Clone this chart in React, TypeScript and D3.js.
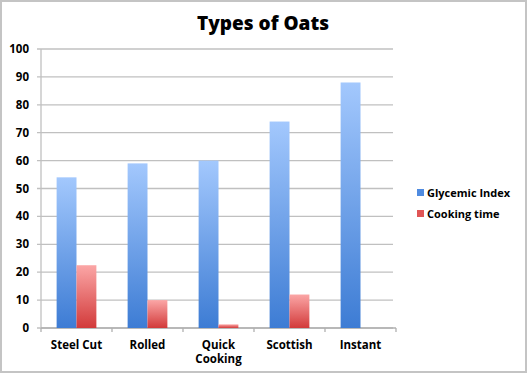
import React from "react";
import * as d3 from "d3";

const categories = ["Steel Cut", "Rolled", "Quick Cooking", "Scottish", "Instant"];
const categoryLines = [["Steel Cut"], ["Rolled"], ["Quick", "Cooking"], ["Scottish"], ["Instant"]];
const glycemicIndex = [54, 59, 60, 74, 88];
const cookingTime = [22.5, 10, 1.3, 12, 0];
const seriesNames = ["Glycemic Index", "Cooking time"];
const yTicks = [0, 10, 20, 30, 40, 50, 60, 70, 80, 90, 100];

const W = 527, H = 373;
const left = 41, right = 396, top = 49, bottom = 328;

export default function App() {
  const x = d3.scaleBand<string>().domain(categories).range([left, right]).paddingInner(0.44).paddingOuter(0.22);
  const y = d3.scaleLinear().domain([0, 100]).range([bottom, top]);
  const bw = x.bandwidth() / 2;
  const series = [glycemicIndex, cookingTime];
  const grads = ["gBlue", "gRed"];
  const font = "'Open Sans', sans-serif";
  return (
    <svg width={W} height={H} style={{ position: "absolute", left: 0, top: 0 }}>
      <defs>
        <linearGradient id="gBlue" x1="0" y1="0" x2="0" y2="1">
          <stop offset="0" stopColor="#a3c8fd" />
          <stop offset="1" stopColor="#3d7cd4" />
        </linearGradient>
        <linearGradient id="gRed" x1="0" y1="0" x2="0" y2="1">
          <stop offset="0" stopColor="#fba6a6" />
          <stop offset="1" stopColor="#d23a3a" />
        </linearGradient>
      </defs>
      <rect x={1} y={1} width={W - 2} height={H - 2} fill="#fff" stroke="#c4c4c4" strokeWidth={2} />
      <text x={263} y={30} textAnchor="middle" fontFamily={font} fontWeight={800} fontSize={19} fill="#000">Types of Oats</text>
      {yTicks.map((t) => (
        <g key={t}>
          <line x1={37} x2={393} y1={y(t)} y2={y(t)} stroke="#c0c0c0" strokeWidth={1.3} />
          <text x={29} y={y(t) + 4} textAnchor="end" fontFamily={font} fontWeight={700} fontSize={11.5} fill="#000">{t}</text>
        </g>
      ))}
      <line x1={left} x2={left} y1={top} y2={bottom} stroke="#c0c0c0" strokeWidth={1.3} />
      <line x1={left} x2={right} y1={bottom} y2={bottom} stroke="#b0b0b0" strokeWidth={1.3} />
      {d3.range(categories.length + 1).map((i) => {
        const xx = left + ((right - left) / categories.length) * i;
        return <line key={i} x1={xx} x2={xx} y1={bottom} y2={bottom + 4} stroke="#b0b0b0" strokeWidth={1.3} />;
      })}
      {series.map((vals, si) =>
        vals.map((v, i) =>
          v > 0 ? (
            <rect key={si + "-" + i} x={(x(categories[i]) as number) + si * bw} y={y(v)} width={bw} height={y(0) - y(v)} fill={`url(#${grads[si]})`} />
          ) : null
        )
      )}
      {categoryLines.map((lines, i) => (
        <text key={i} textAnchor="middle" fontFamily={font} fontWeight={700} fontSize={11.5} fill="#000">
          {lines.map((l, j) => (
            <tspan key={j} x={(x(categories[i]) as number) + x.bandwidth() / 2} y={349 + j * 14}>{l}</tspan>
          ))}
        </text>
      ))}
      {seriesNames.map((n, i) => (
        <g key={n}>
          <rect x={417} y={189 + i * 21} width={7} height={7} fill={i === 0 ? "#4f8be0" : "#e05555"} />
          <text x={427} y={196.5 + i * 21} fontFamily={font} fontWeight={700} fontSize={11} fill="#000">{n}</text>
        </g>
      ))}
    </svg>
  );
}
